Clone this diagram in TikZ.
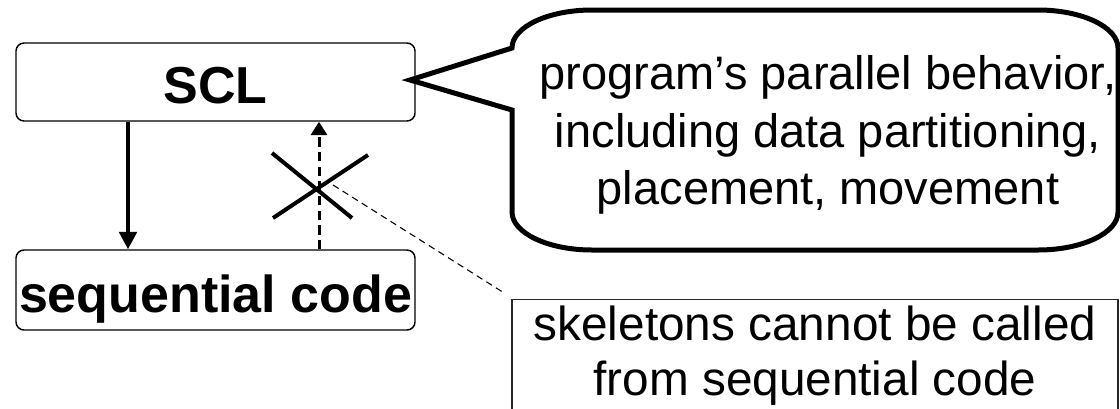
\documentclass[tikz,border=0pt]{standalone}
\usepackage{fontspec}
\setmainfont{Liberation Sans}
\usetikzlibrary{arrows.meta}
\tikzset{box/.style={black,draw=black,rounded corners=6pt,line width=1.1pt,minimum width=299.25pt,minimum height=58.5pt,inner xsep=0pt,font=\bfseries\fontsize{39}{47}\selectfont}}
\tikzset{callout/.style={draw=black,line width=3.75pt,line join=miter}}
\tikzset{note/.style={black,align=center,inner sep=0pt,font=\fontsize{35.25}{43.1}\selectfont}}
\tikzset{warn/.style={black,draw=black!85,line width=1.1pt,minimum width=454.5pt,minimum height=90.75pt,align=center,font=\fontsize{35.8}{41.5}\selectfont}}
\tikzset{flow/.style={line width=3pt,-{Triangle[width=13pt,length=13pt]}}}
\tikzset{flowdash/.style={line width=2.25pt,dash pattern=on 7pt off 4pt,-{Triangle[width=12pt,length=10pt]}}}
\tikzset{leader/.style={line width=0.8pt,dash pattern=on 5pt off 3.5pt}}
\tikzset{cross/.style={line width=3pt}}

\begin{document}
\begin{tikzpicture}[x=0.75pt,y=-0.75pt]
\useasboundingbox (0,0) rectangle (1120,408);
\clip (0,0) rectangle (1120,408);

\node[box,text height=34.5pt,text depth=3pt] (scl) at (215.5,82) {SCL};
\node[box,minimum height=60pt,text height=37pt,text depth=4pt] (seq) at (215.5,290) {sequential code};
\coordinate (down) at (128,0);
\coordinate (up) at (319,0);
\draw[flow] (scl.south -| down) -- (seq.north -| down);
\draw[flowdash] (seq.north -| up) -- (scl.south -| up);

% the call back is not allowed
\draw[cross] (272,153) -- (352,218);
\draw[cross] (273,218) -- (368,155);
\coordinate (lead) at (333,185);

% speech bubble
\coordinate (tip) at (410,80);
\draw[callout] (tip) -- (512,48) .. controls (512,27) and (548,10) .. (592,10) -- (1038,10)
  .. controls (1082,10) and (1118,27) .. (1118,48) -- (1118,212)
  .. controls (1118,233) and (1082,250) .. (1038,250) -- (592,250)
  .. controls (548,250) and (512,233) .. (512,212) -- (512,110) -- cycle;
\node[note] (note) at (828,135) {program’s parallel behavior,\\including data partitioning,\\placement, movement};

\node[warn,text depth=14pt] (warn) at (815,360) {skeletons cannot be called\\from sequential code};
\draw[leader] (lead) -- ([shift={(-9,-7)}]warn.north west);
\end{tikzpicture}
\end{document}
